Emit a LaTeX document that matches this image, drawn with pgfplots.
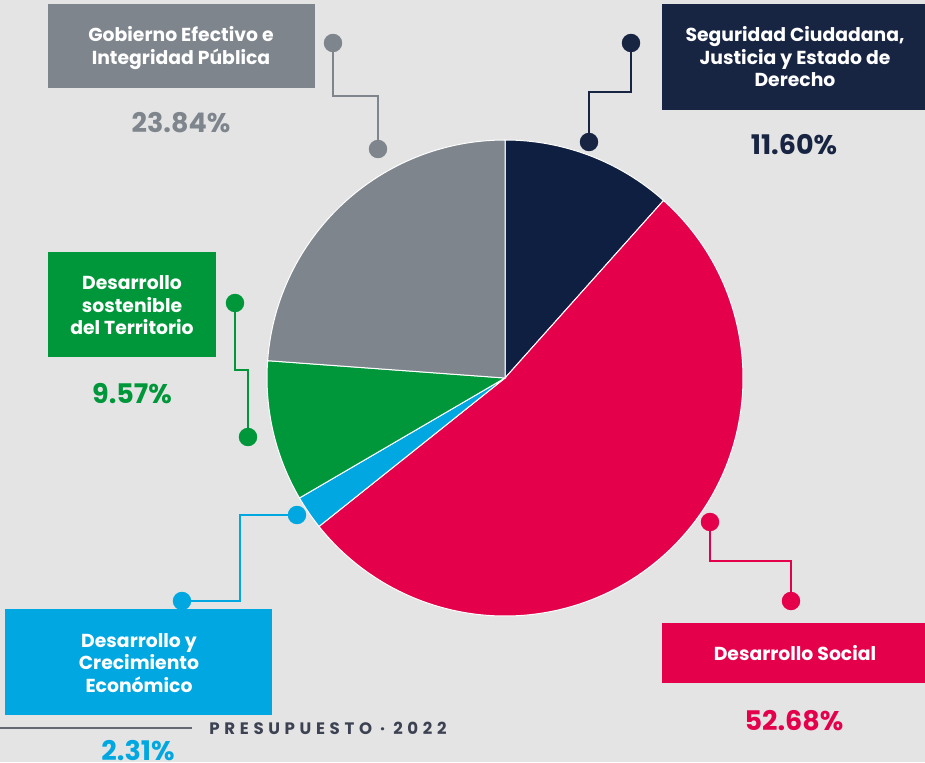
\documentclass[border=0pt]{standalone}
\usepackage{pgfplots}
\pgfplotsset{compat=1.18}
\usepackage{pgfplotstable}
\usepackage{fontspec}
\setmainfont{Poppins}
\definecolor{bg}{HTML}{E4E4E4}
\definecolor{cnavy}{HTML}{0E1F41}
\definecolor{cnavybox}{HTML}{172442}
\definecolor{cred}{HTML}{E4004B}
\definecolor{cblue}{HTML}{00A7E0}
\definecolor{cgreen}{HTML}{00973A}
\definecolor{cgray}{HTML}{7E858C}
\definecolor{cfoot}{HTML}{3D4253}

\pgfplotstableread{
name value color
Seguridad 11.60 cnavy
Social 52.68 cred
Economico 2.31 cblue
Territorio 9.57 cgreen
Gobierno 23.84 cgray
}\piedata

\begin{document}
\begin{tikzpicture}
\begin{axis}[x=0.5pt,y=0.5pt,xmin=0,xmax=925,ymin=0,ymax=762,
  hide axis,clip=false,enlargelimits=false,
  every node/.style={font=\bfseries}]
\fill[bg] (axis cs:0,0) rectangle (axis cs:925,762);
% pie
\def\cum{90}
\pgfplotsforeachungrouped \i in {0,...,4}{%
  \pgfplotstablegetelem{\i}{value}\of\piedata \let\v\pgfplotsretval
  \pgfplotstablegetelem{\i}{color}\of\piedata \let\c\pgfplotsretval
  \pgfmathsetmacro{\a}{\cum}%
  \pgfmathsetmacro{\b}{\cum-3.6*\v}%
  \edef\temp{\noexpand\fill[\c, draw=white, line width=0.5pt] (axis cs:505,384) -- +(\a:119pt) arc[start angle=\a, end angle=\b, radius=119pt] -- cycle;}%
  \temp
  \let\cum\b
}
% connectors
\addplot[cgray, line width=1.2pt, mark=*, mark size=4pt, mark indices={1,4}, mark options={draw=none,fill=cgray}]
  coordinates {(333,719) (333,666) (378,666) (378,613)};
\addplot[cnavybox, line width=1.2pt, mark=*, mark size=4pt, mark indices={1,4}, mark options={draw=none,fill=cnavybox}]
  coordinates {(631,719) (631,670) (589,670) (589,620)};
\addplot[cgreen, line width=1.2pt, mark=*, mark size=4pt, mark indices={1,4}, mark options={draw=none,fill=cgreen}]
  coordinates {(235,459) (235,392) (248,392) (248,325)};
\addplot[cblue, line width=1.2pt, mark=*, mark size=4pt, mark indices={1,4}, mark options={draw=none,fill=cblue}]
  coordinates {(297,247) (240,247) (240,161) (182,161)};
\addplot[cred, line width=1.2pt, mark=*, mark size=4pt, mark indices={1,4}, mark options={draw=none,fill=cred}]
  coordinates {(710,240) (710,201) (791,201) (791,161)};
% boxes
\fill[cgray] (axis cs:48,758) rectangle (axis cs:315,674);
\fill[cnavybox] (axis cs:662,758) rectangle (axis cs:925,652);
\fill[cgreen] (axis cs:48,510) rectangle (axis cs:216,405);
\fill[cblue] (axis cs:5,153) rectangle (axis cs:272,47);
\fill[cred] (axis cs:662,139) rectangle (axis cs:925,79);
% box texts
\begin{scope}[every node/.style={font=\bfseries\fontsize{9.4}{11}\selectfont, text=white, anchor=base, inner sep=0pt}]
\node at (axis cs:181,720) {Gobierno Efectivo e};
\node at (axis cs:181,697) {Integridad Pública};
\node at (axis cs:795,720) {Seguridad Ciudadana,};
\node at (axis cs:795,697) {Justicia y Estado de};
\node at (axis cs:795,675) {Derecho};
\node at (axis cs:132,473) {Desarrollo};
\node at (axis cs:132,450) {sostenible};
\node at (axis cs:132,428) {del Territorio};
\node at (axis cs:139,115) {Desarrollo y};
\node at (axis cs:139,93) {Crecimiento};
\node at (axis cs:139,70) {Económico};
\node at (axis cs:795,102) {Desarrollo Social};
\end{scope}
% percentages
\begin{scope}[every node/.style={font=\bfseries\fontsize{13.5}{16}\selectfont, anchor=base, inner sep=0pt}]
\node[text=cgray] at (axis cs:181,629) {23.84\%};
\node[text=cnavybox] at (axis cs:794,607) {11.60\%};
\node[text=cgreen] at (axis cs:132,359) {9.57\%};
\node[text=cred] at (axis cs:794,32) {52.68\%};
\node[text=cblue] at (axis cs:138,2) {2.31\%};
\end{scope}
% footer
\draw[cfoot!80, line width=1pt] (axis cs:0,34) -- (axis cs:192,34);
\node[anchor=base west, inner sep=0pt, text=cfoot, font=\bfseries\fontsize{8.3}{10}\selectfont\addfontfeature{LetterSpace=28}] at (axis cs:209,28) {PRESUPUESTO · 2022};
\end{axis}
\pgfresetboundingbox
\path (0,0) rectangle (462.5pt,381pt);
\end{tikzpicture}
\end{document}
